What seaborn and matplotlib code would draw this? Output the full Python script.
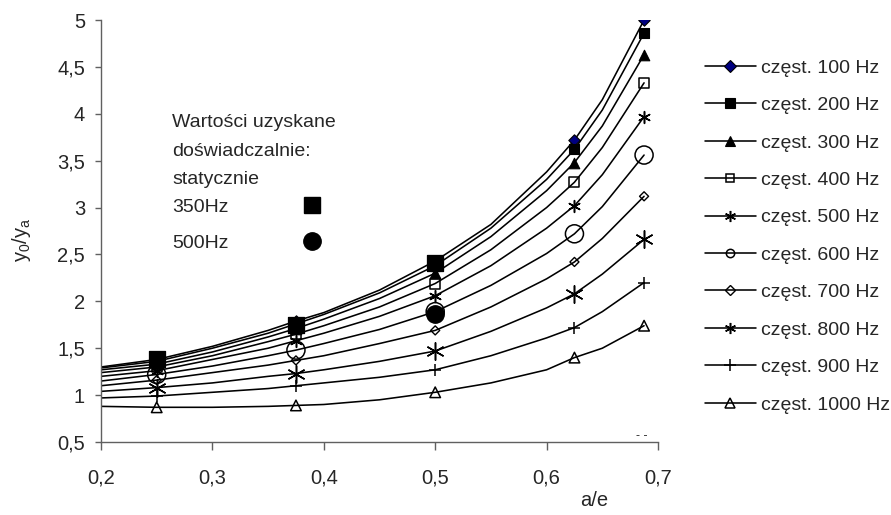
import numpy as np
import pandas as pd
import matplotlib
matplotlib.use("Agg")
import matplotlib.pyplot as plt
import seaborn as sns
from matplotlib.lines import Line2D

# ---------------- data ----------------
A_E = [0.2, 0.25, 0.3, 0.35, 0.375, 0.4, 0.45, 0.5, 0.55, 0.6, 0.625, 0.65, 0.6875]
MARK_AE = [0.25, 0.375, 0.5, 0.625, 0.6875]

SERIES = ['częst. 100 Hz', 'częst. 200 Hz', 'częst. 300 Hz', 'częst. 400 Hz',
          'częst. 500 Hz', 'częst. 600 Hz', 'częst. 700 Hz', 'częst. 800 Hz',
          'częst. 900 Hz', 'częst. 1000 Hz']

Y_100 = [1.30, 1.38, 1.52, 1.69, 1.79, 1.88, 2.12, 2.43, 2.82, 3.38, 3.72, 4.15, 5.00]
Y_200 = [1.29, 1.36, 1.50, 1.66, 1.76, 1.86, 2.09, 2.38, 2.78, 3.30, 3.62, 4.04, 4.86]
Y_300 = [1.27, 1.33, 1.46, 1.62, 1.71, 1.81, 2.03, 2.30, 2.69, 3.18, 3.48, 3.87, 4.63]
Y_400 = [1.24, 1.30, 1.42, 1.57, 1.65, 1.74, 1.94, 2.19, 2.55, 3.00, 3.27, 3.64, 4.33]
Y_500 = [1.20, 1.26, 1.38, 1.50, 1.58, 1.66, 1.84, 2.06, 2.38, 2.78, 3.02, 3.35, 3.97]
Y_600 = [1.15, 1.22, 1.31, 1.42, 1.48, 1.55, 1.70, 1.89, 2.17, 2.51, 2.72, 3.01, 3.56]
Y_700 = [1.10, 1.16, 1.24, 1.32, 1.37, 1.42, 1.55, 1.69, 1.94, 2.24, 2.42, 2.67, 3.12]
Y_800 = [1.04, 1.08, 1.13, 1.20, 1.23, 1.27, 1.36, 1.47, 1.68, 1.93, 2.08, 2.29, 2.66]
Y_900 = [0.97, 0.99, 1.03, 1.07, 1.10, 1.13, 1.19, 1.27, 1.42, 1.61, 1.72, 1.89, 2.20]
Y_1000 = [0.88, 0.87, 0.87, 0.88, 0.89, 0.90, 0.95, 1.03, 1.13, 1.27, 1.40, 1.50, 1.74]

EXP_350_AE = [0.25, 0.375, 0.5]
EXP_350_Y = [1.39, 1.75, 2.41]
EXP_500_AE = [0.5]
EXP_500_Y = [1.87]

EXP_LABELS = ['350Hz', '500Hz']
NOTE_LINES = ['Wartości uzyskane', 'doświadczalnie:', 'statycznie']

X_TICKS = [0.2, 0.3, 0.4, 0.5, 0.6, 0.7]
X_TICK_LABELS = ['0,2', '0,3', '0,4', '0,5', '0,6', '0,7']
Y_TICKS = [0.5, 1, 1.5, 2, 2.5, 3, 3.5, 4, 4.5, 5]
Y_TICK_LABELS = ['0,5', '1', '1,5', '2', '2,5', '3', '3,5', '4', '4,5', '5']

ALL_Y = [Y_100, Y_200, Y_300, Y_400, Y_500, Y_600, Y_700, Y_800, Y_900, Y_1000]

rows = []
for name, ys in zip(SERIES, ALL_Y):
    for x, y in zip(A_E, ys):
        rows.append({'a_e': x, 'ratio': y, 'series': name, 'marked': x in MARK_AE})
df = pd.DataFrame(rows)

# ---------------- styles ----------------
# (marker, plot size in pt, facecolor, edge lw, legend size)
STYLE = {
    'częst. 100 Hz': ('D', 5.8, '#000080', 0.8, 5.8),
    'częst. 200 Hz': ('s', 7.6, 'black', 0.8, 7.2),
    'częst. 300 Hz': ('^', 7.6, 'black', 0.8, 7.2),
    'częst. 400 Hz': ('s', 7.2, 'none', 1.1, 6.0),
    'częst. 500 Hz': ((6, 2, 0), 8.5, 'black', 1.1, 8.0),
    'częst. 600 Hz': ('o', 13.0, 'none', 1.1, 6.0),
    'częst. 700 Hz': ('D', 4.6, 'none', 1.0, 4.6),
    'częst. 800 Hz': ((6, 2, 0), 12.5, 'black', 1.1, 8.0),
    'częst. 900 Hz': ('+', 8.5, 'black', 1.1, 8.5),
    'częst. 1000 Hz': ('^', 7.6, 'none', 1.1, 7.6),
}

sns.set_theme(style='white')
plt.rcParams['font.family'] = ['Liberation Sans', 'DejaVu Sans']

DPI = 100
fig = plt.figure(figsize=(8.91, 5.15), dpi=DPI)
ax = fig.add_axes([101 / 891, 1 - 442 / 515, 557 / 891, 422 / 515])

sns.lineplot(data=df, x='a_e', y='ratio', hue='series', palette=['black'] * len(SERIES),
             estimator=None, sort=False, linewidth=1.15, legend=False, ax=ax)

mdf = df[df['marked']]
for name in SERIES:
    mk, ms, fc, lw, _ = STYLE[name]
    sub = mdf[mdf['series'] == name]
    unfilled = isinstance(mk, tuple) or mk == '+'
    if unfilled:
        sns.scatterplot(x=sub['a_e'], y=sub['ratio'], marker=mk, s=ms ** 2,
                        color='black', linewidth=lw, ax=ax, zorder=3, legend=False)
    else:
        sns.scatterplot(x=sub['a_e'], y=sub['ratio'], marker=mk, s=ms ** 2,
                        facecolor=fc, edgecolor='black', linewidth=lw, ax=ax,
                        zorder=3, legend=False)

sns.scatterplot(x=EXP_350_AE, y=EXP_350_Y, marker='s', s=11.5 ** 2, color='black',
                edgecolor='black', ax=ax, zorder=4, legend=False)
sns.scatterplot(x=EXP_500_AE, y=EXP_500_Y, marker='o', s=12.5 ** 2, color='black',
                edgecolor='black', ax=ax, zorder=4, legend=False)

ax.set_xlim(0.2, 0.7)
ax.set_ylim(0.5, 5)
ax.set_xticks(X_TICKS)
ax.set_xticklabels(X_TICK_LABELS)
ax.set_yticks(Y_TICKS)
ax.set_yticklabels(Y_TICK_LABELS)
for s in ['top', 'right']:
    ax.spines[s].set_visible(False)
for s in ['left', 'bottom']:
    ax.spines[s].set_color('#606060')
    ax.spines[s].set_linewidth(1.0)
ax.tick_params(axis='x', direction='out', length=6, width=1, color='#606060',
               pad=13, labelsize=14.5, bottom=True)
ax.tick_params(axis='y', direction='out', length=4.5, width=1, color='#606060',
               pad=7, labelsize=14.5, left=True)
ax.grid(False)

ax.set_xlabel('a/e', fontsize=14.5, va='center')
ax.xaxis.set_label_coords((594 - 101) / 557, (442 - 500) / 422)
ax.set_ylabel('y$_\\mathregular{0}$/y$_\\mathregular{a}$', fontsize=14.5)
ax.yaxis.set_label_coords((33 - 101) / 557, (442 - 240) / 422)

# little dash mark near the bottom right
ax.text(0.685, 0.5, '- -', fontsize=9, ha='center', va='bottom')

# main legend
handles = []
for name in SERIES:
    mk, ms, fc, lw, lms = STYLE[name]
    unfilled = isinstance(mk, tuple) or mk == '+'
    handles.append(Line2D([], [], color='black', linewidth=1.15, marker=mk,
                          markersize=lms,
                          markerfacecolor=('black' if unfilled else fc),
                          markeredgecolor='black', markeredgewidth=lw))
fig.legend(handles, SERIES, loc='upper left',
           bbox_to_anchor=(705 / 891, 1 - 59 / 515), frameon=False,
           fontsize=14, handlelength=2.6, handletextpad=0.3, labelspacing=1.02,
           borderpad=0, borderaxespad=0)

# note about experimental values
for txt, ypx in zip(NOTE_LINES, [123, 151, 179]):
    fig.text(172 / 891, 1 - ypx / 515, txt, fontsize=14, ha='left', va='center')

exp_handles = [Line2D([], [], linestyle='none', marker='s', markersize=11.5,
                      color='black'),
               Line2D([], [], linestyle='none', marker='o', markersize=12.5,
                      color='black')]
leg2 = ax.legend(exp_handles, EXP_LABELS, markerfirst=False, loc='upper left',
                 bbox_to_anchor=(172 / 891, 1 - 198 / 515),
                 bbox_transform=fig.transFigure, frameon=False, fontsize=14,
                 handlelength=2.0, handletextpad=3.3, labelspacing=0.95,
                 borderpad=0, borderaxespad=0)

fig.savefig('out.png', dpi=DPI)
